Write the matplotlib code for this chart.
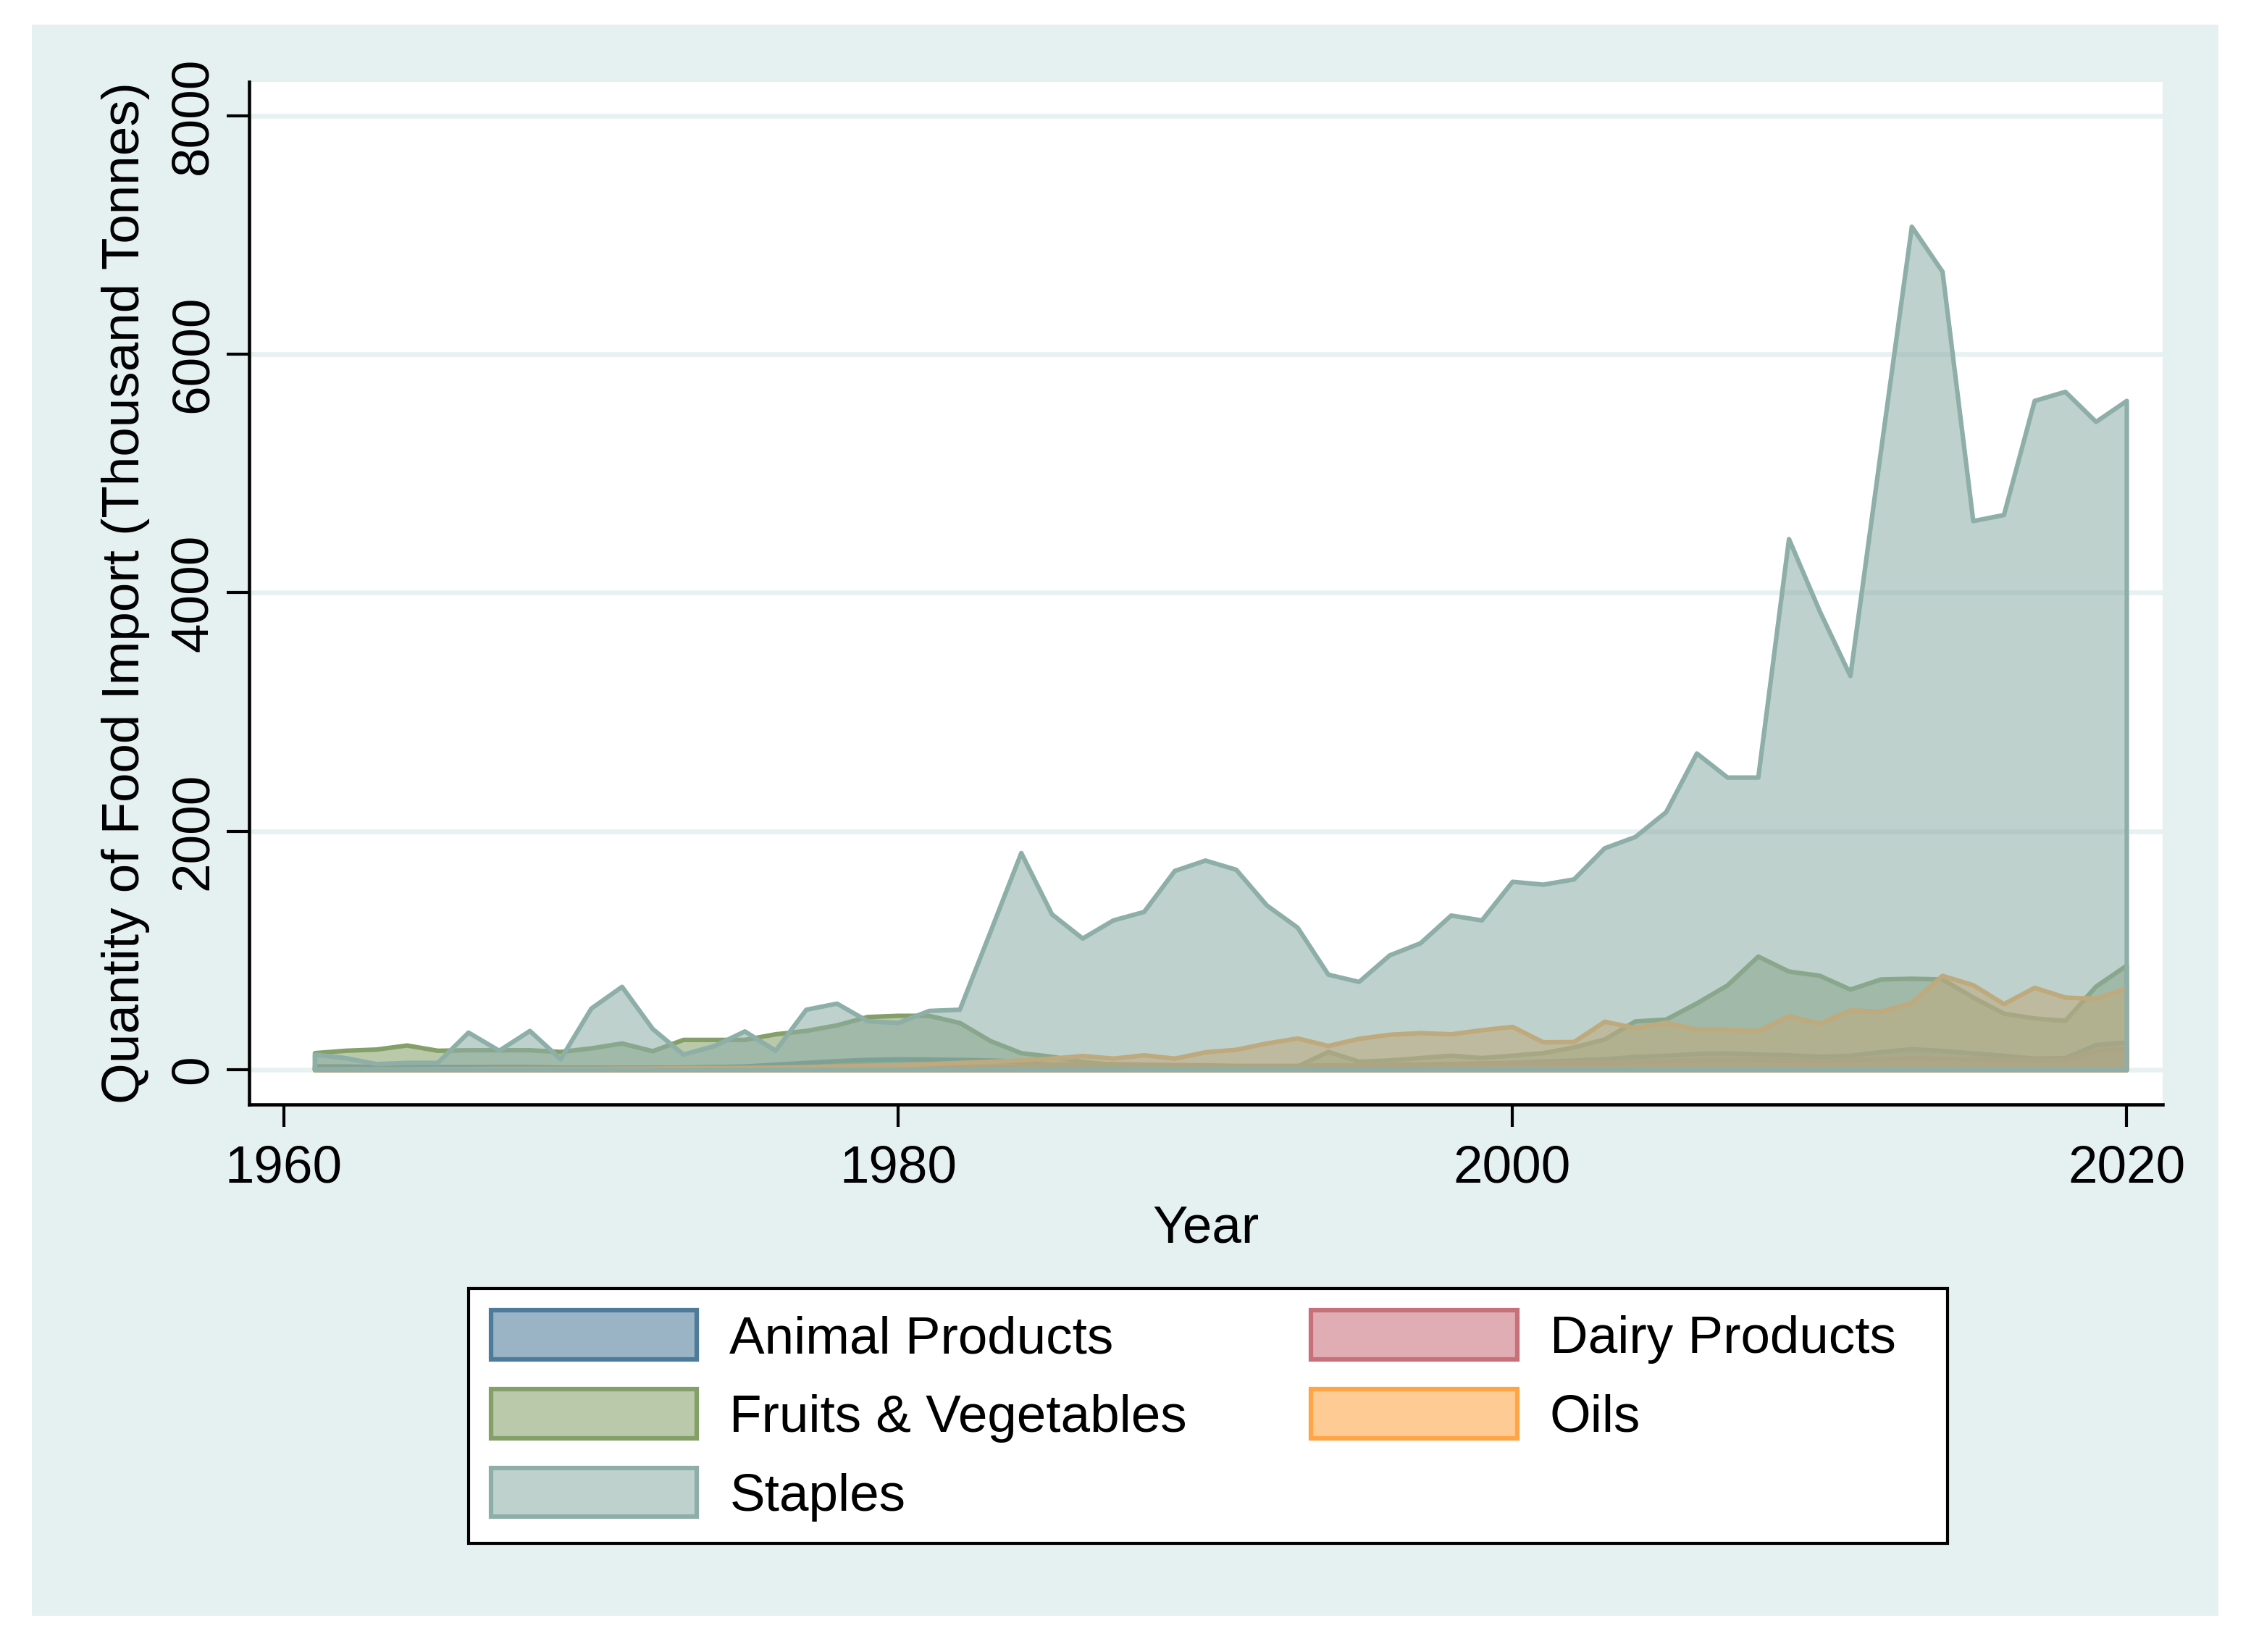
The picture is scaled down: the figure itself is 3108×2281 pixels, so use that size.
import numpy as np
import matplotlib
matplotlib.use("Agg")
from matplotlib import pyplot as plt
from matplotlib.patches import Rectangle
from matplotlib.colors import to_rgba

plt.rcParams['font.family'] = ['Liberation Sans', 'DejaVu Sans']

# data (thousand tonnes)
years = list(range(1961, 2021))

animal = [30, 30, 25, 25, 25, 25, 25, 25, 20, 20, 20, 20, 20, 25, 30,
          45, 60, 75, 85, 90, 88, 85, 80, 70, 40, 35, 30, 30, 30, 30,
          25, 25, 25, 30, 35, 40, 45, 50, 55, 60, 70, 80, 90, 110, 120,
          135, 140, 130, 125, 110, 120, 150, 175, 160, 140, 120, 95, 100, 210, 230]

dairy = [10, 10, 10, 10, 10, 10, 10, 10, 10, 10, 12, 12, 12, 12, 12,
         15, 18, 20, 22, 25, 25, 25, 25, 30, 45, 48, 50, 45, 42, 40,
         35, 35, 35, 40, 40, 45, 45, 50, 50, 55, 55, 60, 60, 70, 75,
         80, 85, 85, 80, 75, 80, 90, 100, 95, 90, 85, 80, 85, 160, 180]

fruits_veg = [142, 162, 172, 206, 162, 166, 166, 166, 152, 182, 223, 158, 253, 253, 253,
              300, 328, 375, 445, 455, 455, 395, 243, 142, 111, 70, 45, 35, 30, 30,
              30, 25, 30, 152, 71, 81, 101, 121, 101, 121, 142, 190, 257, 408, 423,
              559, 710, 952, 826, 791, 675, 760, 766, 760, 609, 473, 433, 413, 700, 876]

oils = [5, 5, 5, 5, 8, 8, 10, 10, 10, 10, 12, 12, 15, 15, 18,
        20, 25, 30, 35, 40, 50, 60, 70, 80, 96, 118, 96, 124, 96, 149,
        170, 223, 265, 202, 262, 296, 310, 300, 334, 362, 233, 235, 405, 352, 398,
        337, 337, 327, 450, 390, 500, 490, 562, 790, 712, 553, 690, 608, 598, 685]

staples = [130, 100, 50, 60, 60, 314, 162, 328, 91, 516, 698, 344, 130, 200, 324,
           162, 506, 557, 410, 395, 496, 506, 1160, 1820, 1306, 1103, 1255, 1326, 1670, 1757,
           1680, 1380, 1194, 800, 739, 962, 1063, 1296, 1255, 1579, 1555, 1599, 1860, 1955, 2163,
           2655, 2453, 2453, 4453, 3849, 3305, 5200, 7073, 6695, 4604, 4655, 5612, 5688, 5436, 5612]

series = [
    ("Animal Products", animal, "#4e7b9b"),
    ("Dairy Products", dairy, "#c8707a"),
    ("Fruits & Vegetables", fruits_veg, "#84a068"),
    ("Oils", oils, "#ffa545"),
    ("Staples", staples, "#8eaea8"),
]

W, H = 3108, 2281
fig = plt.figure(figsize=(W / 300, H / 300), dpi=300, facecolor="white")

# light outer background (graph region)
fig.patches.append(Rectangle((44 / W, 1 - 2231 / H), (3063 - 44) / W, (2231 - 34) / H,
                             transform=fig.transFigure, facecolor="#e5f0f0",
                             edgecolor="none", zorder=-10))

ax = fig.add_axes([344 / W, 1 - 1525 / H, (2986 - 344) / W, (1525 - 113) / H])
ax.set_facecolor("white")

handles = {}
for name, vals, col in series:
    h = ax.fill_between(years, 0, vals, facecolor=to_rgba(col, 0.57),
                        edgecolor=col, linewidth=1.5, label=name)
    handles[name] = h

ax.set_xlim(1958.868, 2021.179)
ax.set_ylim(-291.6, 8285)
ax.set_xticks([1960, 1980, 2000, 2020])
ax.set_yticks([0, 2000, 4000, 6000, 8000])

ax.grid(axis="y", color="#e8f1f1", linewidth=1.6, zorder=0)
ax.set_axisbelow(True)

for s in ["top", "right"]:
    ax.spines[s].set_visible(False)
for s in ["left", "bottom"]:
    ax.spines[s].set_linewidth(1.1)
    ax.spines[s].set_color("black")

ax.tick_params(axis="both", length=7.4, width=1.0, labelsize=17.5, color="black")
ax.tick_params(axis="x", pad=6.0)
ax.tick_params(axis="y", pad=3.0)
plt.setp(ax.get_yticklabels(), rotation=90, va="center")

ax.set_ylabel("Quantity of Food Import (Thousand Tonnes)", fontsize=17.5)
ax.yaxis.label.set_va("center")
ax.yaxis.set_label_coords((174 - 344) / 2642, 0.5)

ax.set_xlabel("Year", fontsize=17.5)
ax.xaxis.label.set_va("baseline")
ax.xaxis.set_label_coords(0.5, (1525 - 1716) / 1412)

order = ["Animal Products", "Fruits & Vegetables", "Staples", "Dairy Products", "Oils"]
labels = ["Animal Products", "Fruits & Vegetables", "Staples", "Dairy Products  ", "Oils"]
leg = fig.legend([handles[k] for k in order], labels, ncol=2, loc="center",
                 bbox_to_anchor=(1668 / W, 1 - 1955 / H), fontsize=17.5,
                 frameon=True, fancybox=False, framealpha=1, edgecolor="black",
                 handlelength=3.9, handleheight=1.05, handletextpad=0.62,
                 columnspacing=2.35, labelspacing=0.48, borderpad=0.42)
leg.get_frame().set_linewidth(1.0)

fig.savefig("out.png", dpi=300, facecolor="white")
